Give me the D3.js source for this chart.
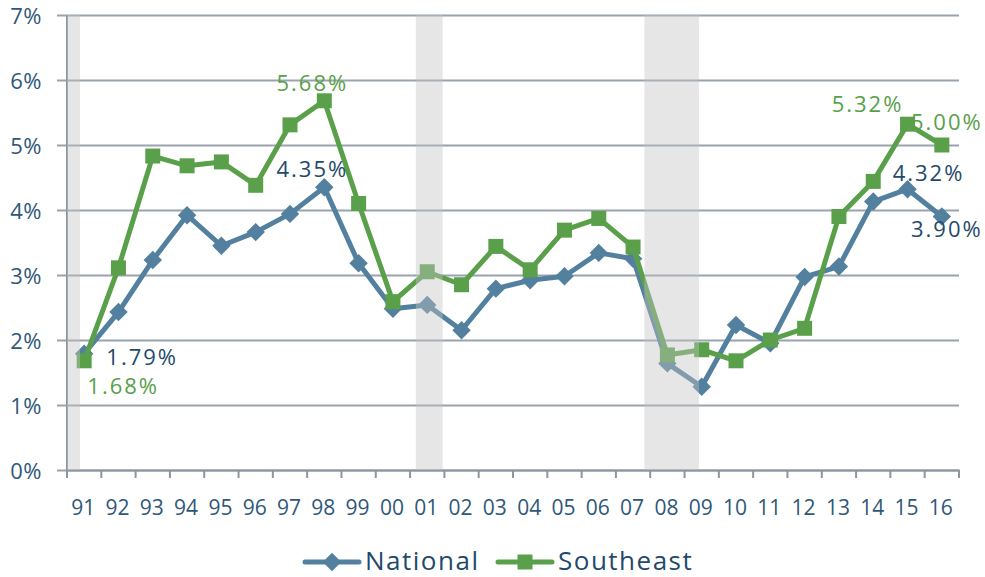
<!DOCTYPE html>
<html><head><meta charset="utf-8">
<script src="https://cdn.jsdelivr.net/npm/d3@7"></script>
<style>
body{margin:0;background:#fff;}
svg{display:block;}
text{font-family:"Open Sans",sans-serif;}
</style></head>
<body><svg id="c" width="985" height="577"></svg>
<script>
const years = ["91","92","93","94","95","96","97","98","99","00","01","02","03","04","05","06","07","08","09","10","11","12","13","14","15","16"];
const national = [1.79,2.43,3.23,3.92,3.45,3.66,3.94,4.35,3.18,2.48,2.54,2.15,2.79,2.92,2.98,3.34,3.25,1.64,1.28,2.23,1.95,2.97,3.13,4.13,4.32,3.90];
const southeast = [1.68,3.11,4.83,4.68,4.74,4.38,5.31,5.68,4.10,2.59,3.05,2.85,3.44,3.08,3.69,3.87,3.43,1.77,1.85,1.68,2.00,2.18,3.90,4.44,5.32,5.00];
const yTicks = [0,1,2,3,4,5,6,7];
// recession periods, in fractional years
const recessionStart = [1991.0, 2001.17, 2007.83];
const recessionEnd = [1991.38, 2001.95, 2009.42];
// annotated points: series, category index, text
const annoSeries = ["national","southeast","national","southeast","southeast","southeast","national","national"];
const annoIndex = [0,0,7,7,24,25,24,25];
const annoText = ["1.79%","1.68%","4.35%","5.68%","5.32%","5.00%","4.32%","3.90%"];

const svg = d3.select("#c");
const L = 67, R = 959, T = 15, B = 470;
const x = d3.scaleBand().domain(years).range([L, R]).padding(0);
const xYear = d3.scaleLinear().domain([1991, 2017]).range([L, R]);
const y = d3.scaleLinear().domain([0, 7]).range([B, T]);
const cx = (i) => x(years[i]) + x.bandwidth() / 2;

const blue = "#54809f", green = "#5aa04b";
const tickColor = "#2f5878", labelBlue = "#1f4a6b";

// gridlines
const gridAxis = d3.axisLeft(y).tickValues(yTicks).tickFormat(d => d + "%");
const gy = svg.append("g").attr("transform", `translate(${L - 10},0)`).call(gridAxis);
gy.select(".domain").remove();
gy.selectAll(".tick line").attr("x1", 0).attr("x2", R - L + 10).attr("stroke", "#9aa3ad").attr("stroke-width", 2);
gy.selectAll(".tick text").attr("x", -15).attr("dy", "0.38em").attr("fill", tickColor)
  .style("font-size", "22px").style("letter-spacing", "0.5px");

// y-axis line
svg.append("line").attr("x1", L).attr("x2", L).attr("y1", T).attr("y2", B + 8)
  .attr("stroke", "#8b96a1").attr("stroke-width", 2);

// x axis
const xAxis = d3.axisBottom(x).tickSize(0).tickSizeOuter(0);
const gx = svg.append("g").attr("transform", `translate(0,${B})`).call(xAxis);
gx.select(".domain").attr("stroke", "#8b96a1").attr("stroke-width", 2);
gx.selectAll(".tick text").attr("y", 30).attr("dy", "0.71em").attr("fill", tickColor)
  .style("font-size", "21px").attr("dx", -1);
// category boundary ticks
const bounds = years.map((d) => x(d)).concat([R]);
svg.append("g").selectAll("line").data(bounds).join("line")
  .attr("x1", d => d).attr("x2", d => d).attr("y1", B).attr("y2", B + 8)
  .attr("stroke", "#8b96a1").attr("stroke-width", 2);

// lines
const line = d3.line().x((d, i) => cx(i)).y(d => y(d));
function drawSeries(vals, color, diamond, size) {
  svg.append("path").datum(vals).attr("d", line).attr("fill", "none")
    .attr("stroke", color).attr("stroke-width", 5).attr("stroke-linejoin", "round");
  svg.append("g").selectAll("path").data(vals).join("path")
    .attr("d", d3.symbol().type(d3.symbolSquare).size(size)())
    .attr("transform", (d, i) => `translate(${cx(i)},${y(d)})` + (diamond ? " rotate(45)" : ""))
    .attr("fill", color);
}
drawSeries(national, blue, true, 170);
drawSeries(southeast, green, false, 225);

// recession bands (drawn on top, translucent)
svg.append("g").selectAll("rect").data(recessionStart).join("rect")
  .attr("x", (d) => xYear(d)).attr("width", (d, i) => xYear(recessionEnd[i]) - xYear(d))
  .attr("y", T).attr("height", B - T)
  .attr("fill", "#c4c4c4").attr("opacity", 0.42);

// annotations
const offsets = [[58,11],[39,33],[-12,-10],[-12,-10],[-40,-12.5],[5,-15],[21,-8],[5,20]];
annoText.forEach((t, k) => {
  const vals = annoSeries[k] === "national" ? national : southeast;
  const i = annoIndex[k];
  svg.append("text").attr("x", cx(i) + offsets[k][0]).attr("y", y(vals[i]) + offsets[k][1])
    .attr("text-anchor", "middle").attr("fill", annoSeries[k] === "national" ? labelBlue : green)
    .style("font-size", "22px").style("letter-spacing", "2px").text(t);
});

// legend
const leg = [{name: "National", color: blue, x0: 305, diamond: true}, {name: "Southeast", color: green, x0: 498, diamond: false}];
const ly = 562;
leg.forEach(l => {
  svg.append("line").attr("x1", l.x0).attr("x2", l.x0 + 54).attr("y1", ly).attr("y2", ly)
    .attr("stroke", l.color).attr("stroke-width", 5).attr("stroke-linecap", "round");
  svg.append("path").attr("d", d3.symbol().type(d3.symbolSquare).size(l.diamond ? 170 : 225)())
    .attr("transform", `translate(${l.x0 + 27},${ly})` + (l.diamond ? " rotate(45)" : "")).attr("fill", l.color);
  svg.append("text").attr("x", l.x0 + 60).attr("y", 570).attr("fill", labelBlue)
    .style("font-size", "26px").style("letter-spacing", "1.5px").text(l.name);
});
</script></body></html>
